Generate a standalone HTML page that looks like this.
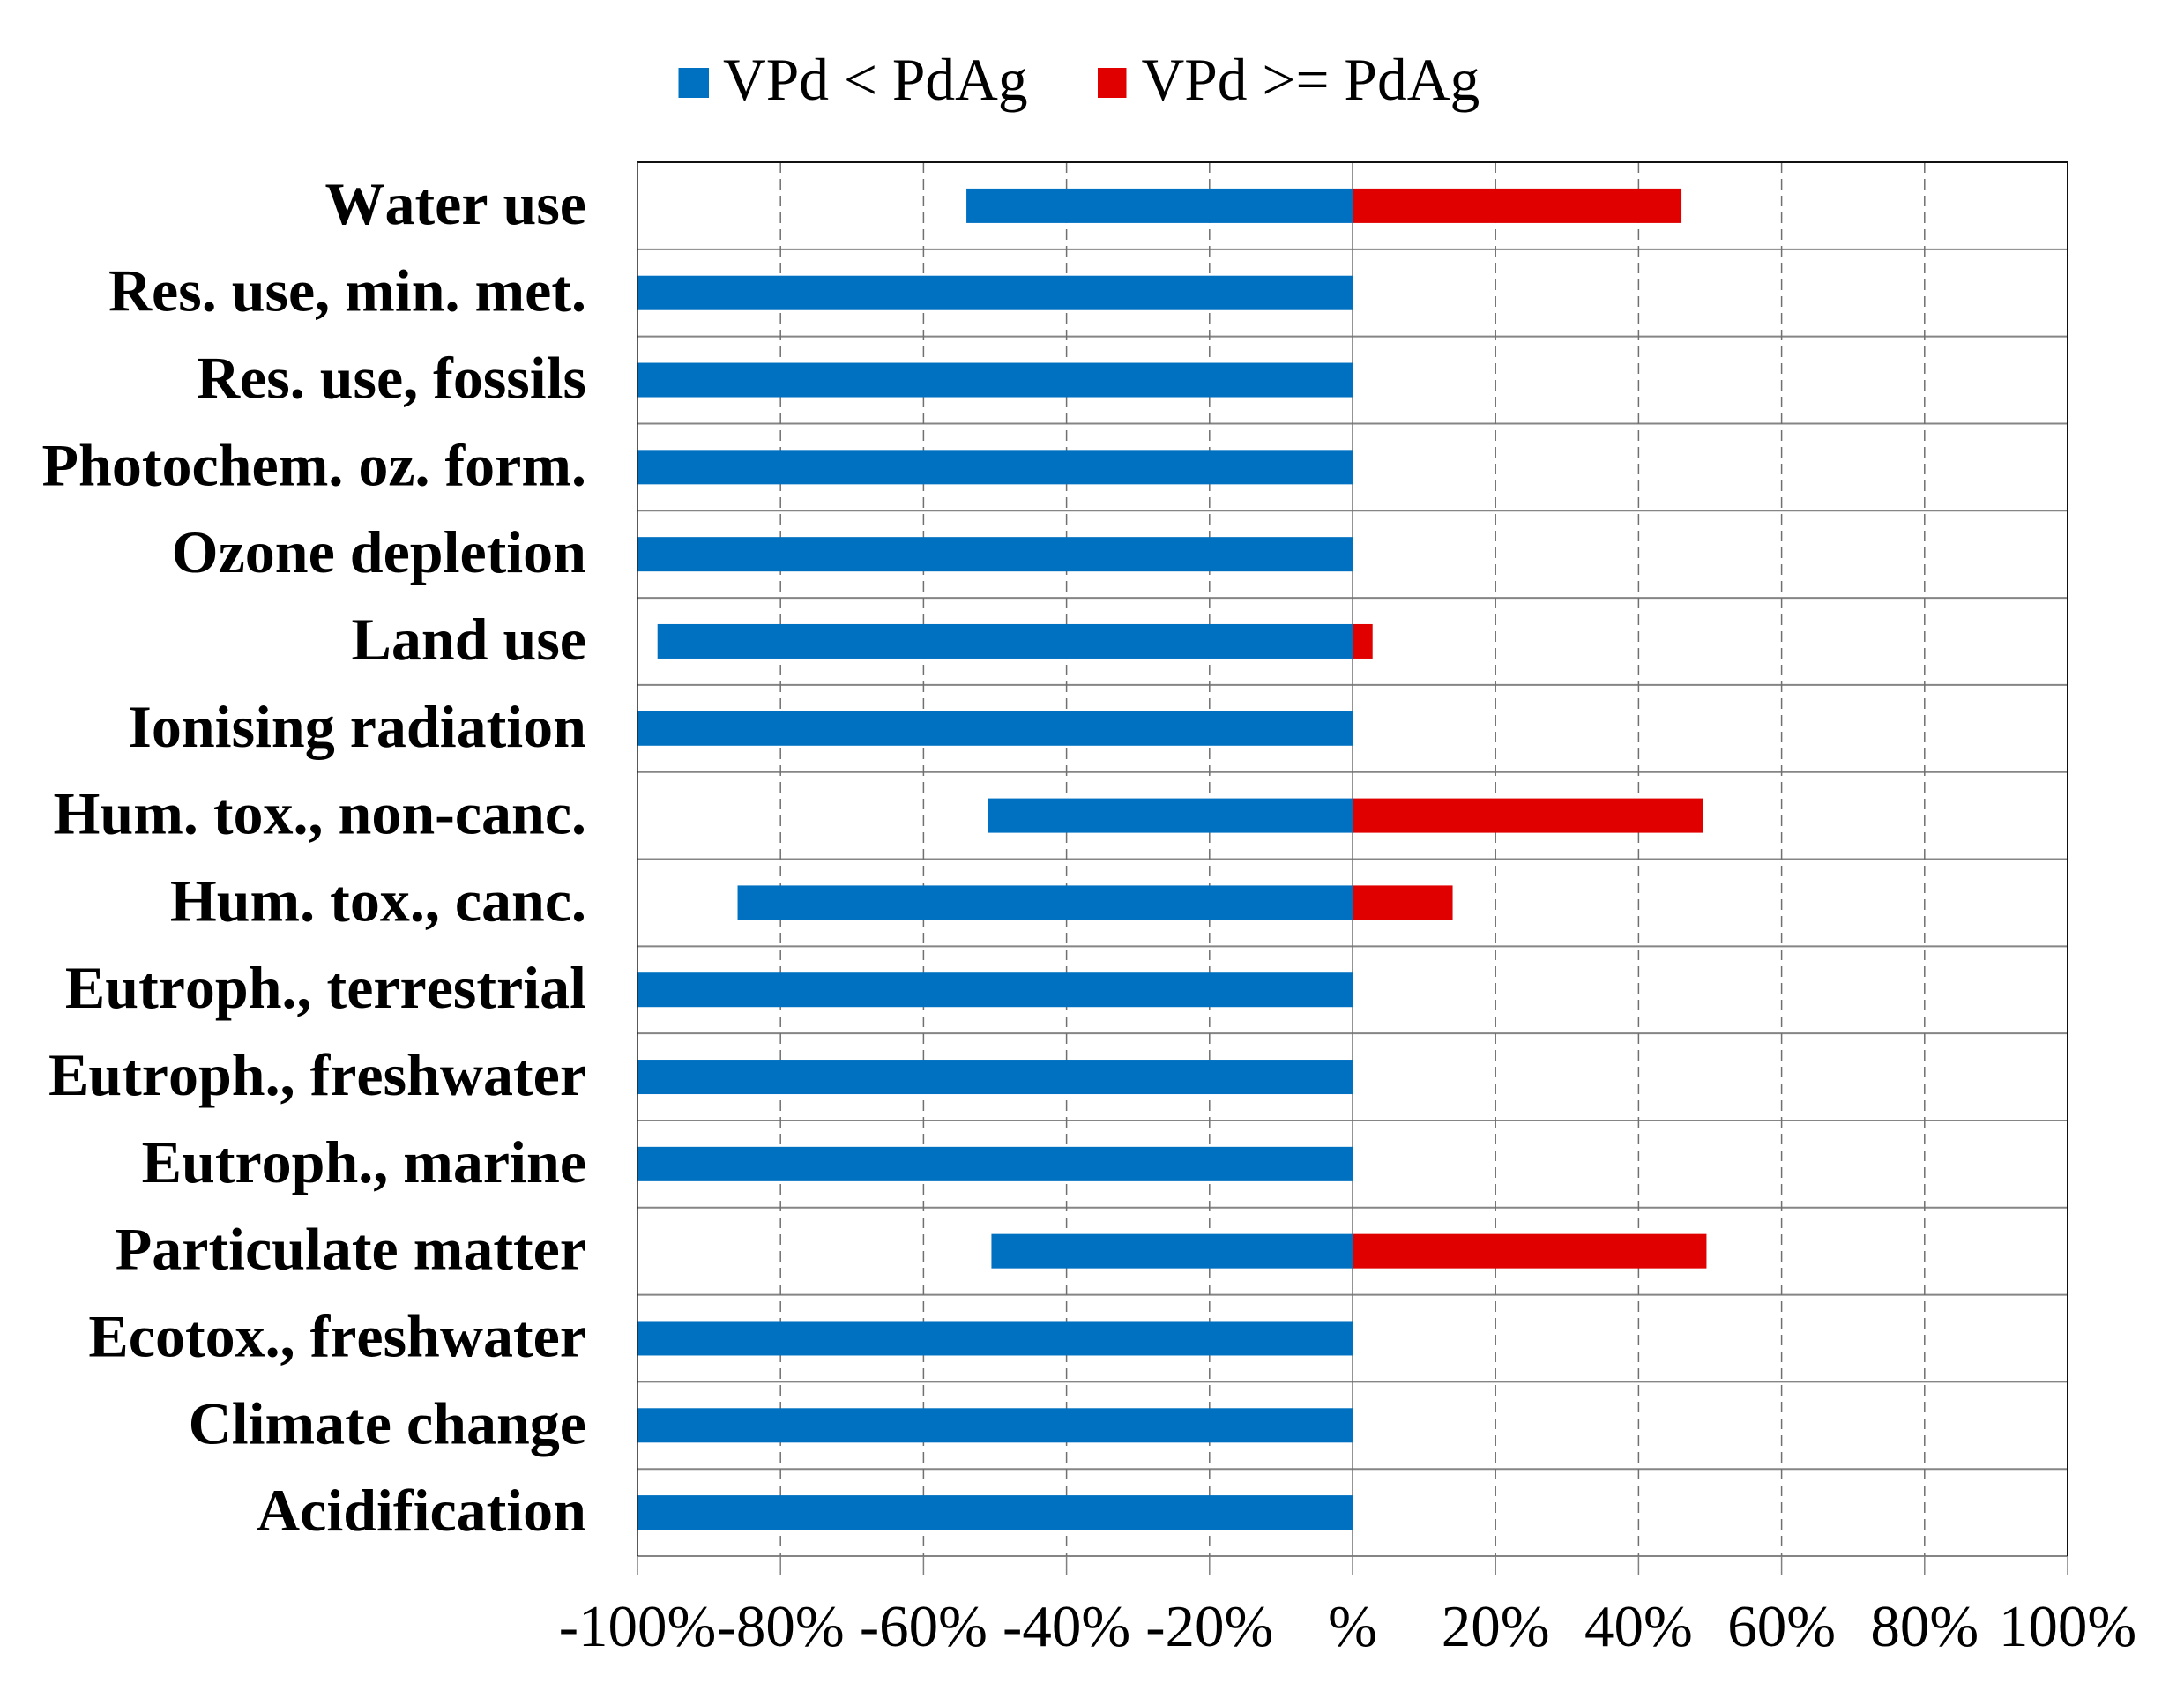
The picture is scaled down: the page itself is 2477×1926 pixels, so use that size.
<!DOCTYPE html>
<html lang="en">
<head>
<meta charset="utf-8">
<title>VPd vs PdAg comparison</title>
<style>
html,body{margin:0;padding:0;background:#fff;}
svg{display:block;}
text{font-family:"Liberation Serif","Times New Roman",serif;fill:#000;font-kerning:none;}
</style>
</head>
<body>
<svg id="chart" xmlns="http://www.w3.org/2000/svg" width="2477" height="1926" viewBox="0 0 2477 1926">
  <rect x="0" y="0" width="2477" height="1926" fill="#ffffff"/>
  <g id="legend">
    <rect x="769.5" y="77" width="34.5" height="34" fill="#0070c0"/>
    <text x="820" y="113" font-size="67.5">VPd &lt; PdAg</text>
    <rect x="1245" y="77" width="32.5" height="34" fill="#e00000"/>
    <text x="1294.5" y="113" font-size="67.5">VPd &gt;= PdAg</text>
  </g>
  <g id="plot"></g>
</svg>
<script>
const categories = ["Water use","Res. use, min. met.","Res. use, fossils","Photochem. oz. form.","Ozone depletion","Land use","Ionising radiation","Hum. tox., non-canc.","Hum. tox., canc.","Eutroph., terrestrial","Eutroph., freshwater","Eutroph., marine","Particulate matter","Ecotox., freshwater","Climate change","Acidification"];
const vpdLess = [-54,-100,-100,-100,-100,-97.2,-100,-51,-86,-100,-100,-100,-50.5,-100,-100,-100];
const vpdGreaterEqual = [46,0,0,0,0,2.8,0,49,14,0,0,0,49.5,0,0,0];
const tickValues = [-100,-80,-60,-40,-20,0,20,40,60,80,100];
const tickLabels = ["-100%","-80%","-60%","-40%","-20%","%","20%","40%","60%","80%","100%"];

const NS = "http://www.w3.org/2000/svg";
const plot = document.getElementById("plot");
const left = 723, right = 2345, top_ = 184, bottom = 1765;
const xScale = function (v) { return left + (v + 100) / 200 * (right - left); };
const rowH = (bottom - top_) / categories.length;
const yLine = function (i) { return top_ + i * rowH; };
const yCenter = function (i) { return top_ + (i + 0.5) * rowH; };
const barH = 39;

function make(tag, attrs, parent) {
  const el = document.createElementNS(NS, tag);
  for (const k in attrs) el.setAttribute(k, attrs[k]);
  (parent || plot).appendChild(el);
  return el;
}

// horizontal separators
for (let i = 1; i <= categories.length; i++) {
  const el = make("line", {x1: left, x2: right, y1: yLine(i), y2: yLine(i), stroke: "#858585", "stroke-width": 2});
  
  
}

// vertical gridlines and tick marks
tickValues.forEach(function (v) {
  const x = xScale(v);
  if (v !== -100 && v !== 100) {
    const attrs = {x1: x, x2: x, y1: top_, y2: bottom, stroke: "#707070", "stroke-width": 1.5};
    if (v !== 0) attrs["stroke-dasharray"] = "12 7";
    const g = make("line", attrs);
    
    
  }
  const t = make("line", {x1: x, x2: x, y1: bottom, y2: 1786, stroke: "#808080", "stroke-width": 1.5});
  
  
});

// bars
categories.forEach(function (c, i) {
  const y = yCenter(i) - barH / 2;
  const x0 = xScale(0);
  if (vpdLess[i] !== 0) {
    const xa = xScale(vpdLess[i]);
    const a = make("rect", {x: xa, y: y, width: x0 - xa, height: barH, fill: "#0070c0"});
    
    
  }
  if (vpdGreaterEqual[i] !== 0) {
    const b = make("rect", {x: x0, y: y, width: xScale(vpdGreaterEqual[i]) - x0, height: barH, fill: "#e00000"});
    
    
  }
  const label = make("text", {x: 665, y: yCenter(i) + 20.5, "text-anchor": "end", "font-size": 68, "font-weight": "bold"});
  label.textContent = c;
  
  
});

// plot border: top, left, right
const borderTop = make("line", {x1: left - 1, x2: right + 1, y1: top_, y2: top_, stroke: "#111", "stroke-width": 2});


const borderLeft = make("line", {x1: left, x2: left, y1: top_, y2: bottom, stroke: "#222", "stroke-width": 1.5});


const borderRight = make("line", {x1: right, x2: right, y1: top_, y2: bottom, stroke: "#111", "stroke-width": 2});



// tick labels
tickValues.forEach(function (v, i) {
  const t = make("text", {x: xScale(v), y: 1867, "text-anchor": "middle", "font-size": 67});
  t.textContent = tickLabels[i];
  
  
});
</script>
</body>
</html>
